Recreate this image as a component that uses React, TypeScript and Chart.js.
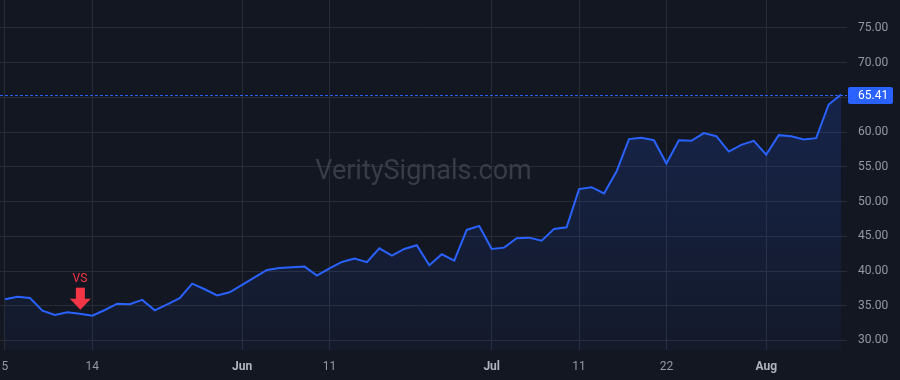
import React, { useEffect, useRef } from "react";
import { Chart, registerables } from "chart.js";

Chart.register(...registerables);

const dates: string[] = [
  "2025-05-05","2025-05-06","2025-05-07","2025-05-08","2025-05-09",
  "2025-05-12","2025-05-13","2025-05-14","2025-05-15","2025-05-16",
  "2025-05-19","2025-05-20","2025-05-21","2025-05-22","2025-05-23",
  "2025-05-27","2025-05-28","2025-05-29","2025-05-30",
  "2025-06-02","2025-06-03","2025-06-04","2025-06-05","2025-06-06",
  "2025-06-09","2025-06-10","2025-06-11","2025-06-12","2025-06-13",
  "2025-06-16","2025-06-17","2025-06-18","2025-06-20",
  "2025-06-23","2025-06-24","2025-06-25","2025-06-26","2025-06-27","2025-06-30",
  "2025-07-01","2025-07-02","2025-07-03",
  "2025-07-07","2025-07-08","2025-07-09","2025-07-10","2025-07-11",
  "2025-07-14","2025-07-15","2025-07-16","2025-07-17","2025-07-18",
  "2025-07-21","2025-07-22","2025-07-23","2025-07-24","2025-07-25",
  "2025-07-28","2025-07-29","2025-07-30","2025-07-31","2025-08-01",
  "2025-08-04","2025-08-05","2025-08-06","2025-08-07","2025-08-08","2025-08-11",
];

const closes: number[] = [
  35.94, 36.31, 36.12, 34.29, 33.67, 34.06, 33.86, 33.57, 34.39, 35.30,
  35.21, 35.84, 34.35, 35.21, 36.08, 38.19, 37.38, 36.50, 36.94, 38.00,
  39.10, 40.16, 40.45, 40.55, 40.64, 39.34, 40.40, 41.31, 41.79, 41.27,
  43.28, 42.22, 43.18, 43.72, 40.84, 42.42, 41.50, 45.92, 46.50, 43.18,
  43.37, 44.72, 44.81, 44.38, 46.07, 46.31, 51.80, 52.07, 51.18, 54.32,
  59.00, 59.18, 58.84, 55.48, 58.84, 58.75, 59.86, 59.42, 57.20, 58.17,
  58.75, 56.77, 59.57, 59.42, 58.94, 59.13, 63.98, 65.41,
];

const xTickIndex: number[] = [0, 7, 19, 26, 39, 46, 53, 61];
const xTickText: string[] = ["5", "14", "Jun", "11", "Jul", "11", "22", "Aug"];
const xTickIsMonth: boolean[] = [false, false, true, false, true, false, false, true];

const yTicks: number[] = [30, 35, 40, 45, 50, 55, 60, 65, 70, 75];
const lastPrice = 65.41;
const signalIndex = 6;
const signalText = "VS";
const watermark = "VeritySignals.com";

const BG = "#131722";
const GRID = "#282c37";
const BLUE = "#2962ff";
const RED = "#f23645";
const TEXT = "#9598a1";
const FONT = "Roboto, 'Liberation Sans', Arial, sans-serif";

export default function App() {
  const ref = useRef<HTMLCanvasElement | null>(null);

  useEffect(() => {
    document.body.style.margin = "0";
    document.body.style.background = BG;
    const canvas = ref.current;
    if (!canvas) return;

    const overlay = {
      id: "overlay",
      beforeDatasetsDraw(chart: any) {
        const { ctx, chartArea } = chart;
        ctx.save();
        ctx.fillStyle = "#383c47";
        ctx.font = `27px ${FONT}`;
        ctx.textAlign = "center";
        ctx.textBaseline = "middle";
        ctx.fillText(watermark, (chartArea.left + chartArea.right) / 2, 172);
        ctx.restore();
      },
      afterDatasetsDraw(chart: any) {
        const { ctx, chartArea, scales } = chart;
        const y = scales.y.getPixelForValue(lastPrice);
        ctx.save();
        // dotted last price line
        ctx.strokeStyle = BLUE;
        ctx.lineWidth = 1;
        ctx.setLineDash([3, 2]);
        ctx.beginPath();
        ctx.moveTo(chartArea.left, Math.round(y) + 0.5);
        ctx.lineTo(chartArea.right, Math.round(y) + 0.5);
        ctx.stroke();
        ctx.setLineDash([]);
        // price label box
        const bx = chartArea.right + 1;
        const bw = 45;
        const bh = 17;
        ctx.fillStyle = BLUE;
        ctx.beginPath();
        (ctx as any).roundRect(bx, Math.round(y) - 8, bw, bh, 2);
        ctx.fill();
        ctx.fillStyle = "#ffffff";
        ctx.font = `12px ${FONT}`;
        ctx.textAlign = "left";
        ctx.textBaseline = "middle";
        ctx.fillText(lastPrice.toFixed(2), chartArea.right + 11, Math.round(y) + 0.5);

        // signal arrow
        const ax = scales.x.getPixelForValue(signalIndex);
        const tip = scales.y.getPixelForValue(closes[signalIndex]) - 4;
        ctx.fillStyle = RED;
        ctx.fillRect(ax - 4, tip - 22, 9, 12);
        ctx.beginPath();
        ctx.moveTo(ax - 10, tip - 11);
        ctx.lineTo(ax + 11, tip - 11);
        ctx.lineTo(ax + 0.5, tip);
        ctx.closePath();
        ctx.fill();
        ctx.font = `12px ${FONT}`;
        ctx.textAlign = "center";
        ctx.textBaseline = "middle";
        ctx.fillText(signalText, ax, tip - 31);
        ctx.restore();
      },
    };

    const chart = new Chart(canvas, {
      type: "line",
      data: {
        labels: dates,
        datasets: [
          {
            data: closes.map((v, i) => ({ x: i, y: v })),
            borderColor: BLUE,
            borderWidth: 2,
            pointRadius: 0,
            tension: 0,
            fill: "start",
            backgroundColor: (c: any) => {
              const area = c.chart.chartArea;
              if (!area) return "rgba(41,98,255,0.15)";
              const g = c.chart.ctx.createLinearGradient(0, area.top, 0, area.bottom);
              g.addColorStop(0, "rgba(41,98,255,0.24)");
              g.addColorStop(1, "rgba(41,98,255,0.04)");
              return g;
            },
          },
        ],
      },
      options: {
        animation: false,
        responsive: true,
        maintainAspectRatio: false,
        layout: { padding: 0 },
        plugins: { legend: { display: false }, tooltip: { enabled: false } },
        scales: {
          x: {
            type: "linear",
            min: -0.4,
            max: 67.47,
            border: { display: false },
            grid: { color: GRID, drawTicks: false, lineWidth: 1 },
            afterBuildTicks: (s: any) => {
              s.ticks = xTickIndex.map((v) => ({ value: v }));
            },
            afterFit: (s: any) => {
              s.height = 30;
              s.paddingLeft = 0;
              s.paddingRight = 0;
            },
            ticks: {
              padding: 10,
              maxRotation: 0,
              autoSkip: false,
              color: (c: any) => {
                const k = xTickIndex.indexOf(c.tick?.value);
                return k >= 0 && xTickIsMonth[k] ? "#b2b5be" : TEXT;
              },
              font: (c: any) => {
                const k = xTickIndex.indexOf(c.tick?.value);
                return { family: FONT, size: 12, weight: k >= 0 && xTickIsMonth[k] ? "bold" : "normal" };
              },
              callback: (v: any) => {
                const k = xTickIndex.indexOf(v);
                return k >= 0 ? xTickText[k] : "";
              },
            },
          },
          y: {
            position: "right",
            min: 28.63,
            max: 79.03,
            border: { display: false },
            grid: { color: GRID, drawTicks: false, lineWidth: 1 },
            afterBuildTicks: (s: any) => {
              s.ticks = yTicks.map((v) => ({ value: v }));
            },
            afterFit: (s: any) => {
              s.width = 53;
              s.paddingTop = 0;
              s.paddingBottom = 0;
            },
            ticks: {
              padding: 11,
              color: TEXT,
              font: { family: FONT, size: 12 },
              callback: (v: any) => Number(v).toFixed(2),
            },
          },
        },
      },
      plugins: [overlay],
    });

    return () => chart.destroy();
  }, []);

  return (
    <div style={{ width: 900, height: 380, background: BG, position: "relative" }}>
      <canvas ref={ref} />
    </div>
  );
}
